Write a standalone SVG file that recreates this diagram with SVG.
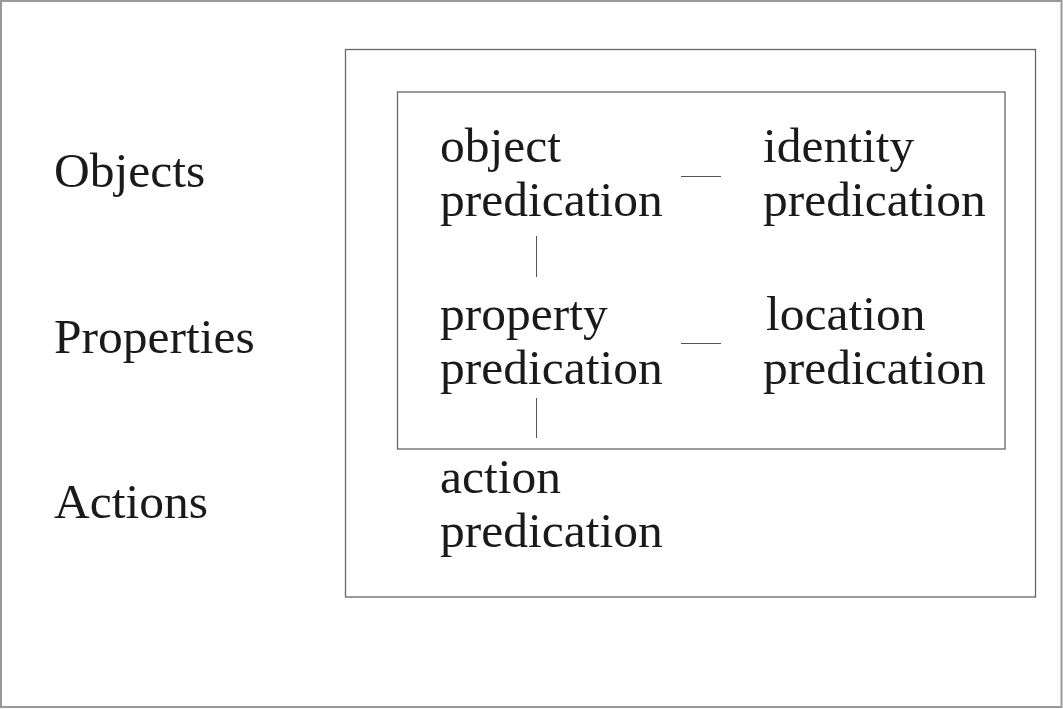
<svg xmlns="http://www.w3.org/2000/svg" width="1063" height="709" viewBox="0 0 1063 709">
<style>
text{font-family:"Liberation Serif","Times New Roman",serif;font-size:49.5px;fill:#1a1a1a}
.frame{fill:none;stroke:#666;stroke-width:1.3}
.conn line{stroke:#555;stroke-width:1}
</style>
<rect x="0" y="0" width="1063" height="709" fill="#fff"/>
<rect x="1" y="1" width="1060.5" height="706" fill="none" stroke="#999" stroke-width="2"/>
<g id="outer-box"><rect class="frame" x="345.5" y="49.5" width="690" height="547.5"/></g>
<g id="inner-box"><rect class="frame" x="397.5" y="92" width="607.5" height="357"/></g>
<g id="label-objects"><text x="54" y="187">Objects</text></g>
<g id="label-properties"><text x="54" y="353">Properties</text></g>
<g id="label-actions"><text x="54" y="518">Actions</text></g>
<g id="object-predication"><text x="440" y="162">object</text><text x="440" y="216">predication</text></g>
<g id="identity-predication"><text x="763" y="162">identity</text><text x="763" y="216">predication</text></g>
<g id="property-predication"><text x="440" y="330">property</text><text x="440" y="384">predication</text></g>
<g id="location-predication"><text x="766" y="330">location</text><text x="763" y="384">predication</text></g>
<g id="action-predication"><text x="440" y="493">action</text><text x="440" y="547">predication</text></g>
<g id="connectors" class="conn">
<line x1="681" y1="176.5" x2="721" y2="176.5"/>
<line x1="681" y1="343.5" x2="721" y2="343.5"/>
<line x1="536.5" y1="236" x2="536.5" y2="277"/>
<line x1="536.5" y1="398" x2="536.5" y2="438"/>
</g>
</svg>
